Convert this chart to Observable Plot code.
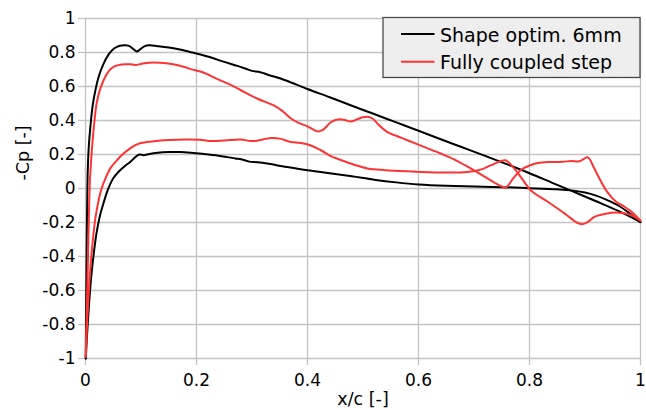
<!DOCTYPE html>
<html>
<head>
<meta charset="utf-8">
<script src="https://cdn.jsdelivr.net/npm/d3@7"></script>
<script src="https://cdn.jsdelivr.net/npm/@observablehq/plot@0.6"></script>
<style>
  html, body { margin: 0; padding: 0; background: #ffffff; }
  #wrap { position: relative; width: 646px; height: 410px; }
  #legend { position: absolute; left: 0; top: 0; }
</style>
</head>
<body>
<div id="wrap"></div>
<script>
// ---- axis ticks & labels ----
const xTicks = [0, 0.2, 0.4, 0.6, 0.8, 1];
const yTicks = [-1, -0.8, -0.6, -0.4, -0.2, 0, 0.2, 0.4, 0.6, 0.8, 1];
const xLabel = "x/c [-]";
const yLabel = "-Cp [-]";
const seriesNames = ["Shape optim. 6mm", "Fully coupled step"];
const seriesColors = ["#000000", "#ff3333"];

// ---- Shape optim. 6mm : suction side ----
const shapeUpperX = [0.0005, 0.0012, 0.002, 0.003, 0.004, 0.006, 0.009, 0.013, 0.018, 0.024, 0.032, 0.042, 0.052, 0.062, 0.072, 0.08, 0.087, 0.093, 0.099, 0.106, 0.115, 0.13, 0.15, 0.17, 0.19, 0.22, 0.25, 0.275, 0.29, 0.30, 0.315, 0.33, 0.36, 0.40, 0.44, 0.48, 0.52, 0.56, 0.60, 0.64, 0.68, 0.72, 0.76, 0.80, 0.84, 0.88, 0.92, 0.96, 1.0];
const shapeUpperCp = [-1.0, -0.7, -0.4, -0.1, 0.1, 0.25, 0.37, 0.49, 0.58, 0.66, 0.73, 0.79, 0.825, 0.84, 0.843, 0.836, 0.818, 0.806, 0.82, 0.836, 0.842, 0.837, 0.829, 0.818, 0.802, 0.776, 0.745, 0.72, 0.703, 0.692, 0.684, 0.668, 0.637, 0.585, 0.537, 0.487, 0.438, 0.389, 0.34, 0.29, 0.241, 0.192, 0.142, 0.09, 0.035, -0.02, -0.075, -0.132, -0.197];

// ---- Shape optim. 6mm : pressure side ----
const shapeLowerX = [0.0005, 0.003, 0.006, 0.01, 0.015, 0.02, 0.026, 0.033, 0.04, 0.05, 0.06, 0.07, 0.08, 0.09, 0.097, 0.105, 0.115, 0.13, 0.15, 0.17, 0.19, 0.21, 0.24, 0.27, 0.285, 0.295, 0.31, 0.33, 0.36, 0.40, 0.44, 0.48, 0.52, 0.56, 0.60, 0.65, 0.70, 0.75, 0.80, 0.85, 0.875, 0.90, 0.92, 0.94, 0.96, 0.98, 1.0];
const shapeLowerCp = [-1.0, -0.85, -0.7, -0.53, -0.38, -0.26, -0.16, -0.08, -0.01, 0.06, 0.1, 0.13, 0.155, 0.185, 0.2, 0.196, 0.203, 0.21, 0.214, 0.214, 0.21, 0.204, 0.193, 0.177, 0.168, 0.158, 0.154, 0.145, 0.128, 0.107, 0.09, 0.072, 0.052, 0.036, 0.024, 0.016, 0.012, 0.008, 0.002, -0.005, -0.011, -0.024, -0.042, -0.068, -0.1, -0.145, -0.198];

// ---- Fully coupled step : suction side ----
const coupledUpperX = [0.0005, 0.0025, 0.0045, 0.0065, 0.008, 0.0095, 0.012, 0.015, 0.02, 0.026, 0.033, 0.042, 0.052, 0.065, 0.08, 0.09, 0.1, 0.115, 0.135, 0.155, 0.175, 0.19, 0.21, 0.237, 0.26, 0.28, 0.31, 0.34, 0.355, 0.37, 0.385, 0.40, 0.41, 0.418, 0.425, 0.433, 0.442, 0.452, 0.465, 0.478, 0.488, 0.498, 0.51, 0.518, 0.528, 0.544, 0.56, 0.58, 0.61, 0.64, 0.665, 0.69, 0.71, 0.725, 0.74, 0.75, 0.758, 0.772, 0.785, 0.80, 0.815, 0.835, 0.86, 0.875, 0.89, 0.905, 0.915, 0.925, 0.94, 0.955, 0.97, 0.985, 1.0];
const coupledUpperCp = [-0.99, -0.7, -0.4, -0.1, 0.05, 0.13, 0.25, 0.36, 0.5, 0.58, 0.64, 0.69, 0.718, 0.73, 0.731, 0.727, 0.733, 0.74, 0.739, 0.732, 0.718, 0.702, 0.685, 0.645, 0.612, 0.578, 0.528, 0.487, 0.455, 0.412, 0.385, 0.365, 0.348, 0.336, 0.34, 0.36, 0.39, 0.405, 0.405, 0.394, 0.405, 0.418, 0.421, 0.41, 0.375, 0.332, 0.31, 0.284, 0.245, 0.206, 0.17, 0.126, 0.088, 0.058, 0.028, 0.012, 0.008, 0.065, 0.11, 0.135, 0.15, 0.156, 0.157, 0.162, 0.16, 0.183, 0.13, 0.065, -0.02, -0.075, -0.105, -0.14, -0.19];

// ---- Fully coupled step : pressure side ----
const coupledLowerX = [0.0005, 0.002, 0.004, 0.007, 0.01, 0.014, 0.018, 0.023, 0.028, 0.036, 0.045, 0.055, 0.065, 0.078, 0.09, 0.1, 0.12, 0.15, 0.18, 0.21, 0.225, 0.25, 0.28, 0.298, 0.31, 0.334, 0.352, 0.37, 0.388, 0.406, 0.424, 0.442, 0.46, 0.484, 0.508, 0.54, 0.58, 0.64, 0.688, 0.712, 0.73, 0.748, 0.757, 0.772, 0.787, 0.802, 0.833, 0.863, 0.885, 0.895, 0.905, 0.917, 0.935, 0.96, 0.98, 1.0];
const coupledLowerCp = [-0.99, -0.85, -0.72, -0.55, -0.42, -0.28, -0.17, -0.08, -0.01, 0.06, 0.12, 0.16, 0.195, 0.23, 0.255, 0.268, 0.277, 0.285, 0.288, 0.286, 0.279, 0.282, 0.288, 0.279, 0.282, 0.297, 0.292, 0.273, 0.268, 0.253, 0.225, 0.19, 0.168, 0.14, 0.118, 0.108, 0.101, 0.094, 0.097, 0.111, 0.136, 0.161, 0.166, 0.12, 0.055, -0.01, -0.078, -0.146, -0.2, -0.21, -0.197, -0.167, -0.15, -0.142, -0.152, -0.19];

// ---- build tables ----
function table(xs, ys, series) {
  return xs.map((x, i) => ({x, cp: ys[i], series}));
}
const curves = [
  table(shapeUpperX, shapeUpperCp, seriesNames[0]),
  table(shapeLowerX, shapeLowerCp, seriesNames[0]),
  table(coupledUpperX, coupledUpperCp, seriesNames[1]),
  table(coupledLowerX, coupledLowerCp, seriesNames[1])
];

const fmt = d => String(Math.round(d * 10) / 10);
const gridColor = "#c3c3c3";

const chart = Plot.plot({
  width: 646,
  height: 410,
  marginLeft: 85,
  marginRight: 6,
  marginTop: 18,
  marginBottom: 52,
  style: {fontFamily: "DejaVu Sans", fontSize: "17px", background: "#ffffff", color: "#000"},
  x: {domain: [0, 1], ticks: xTicks, tickFormat: fmt, label: null},
  y: {domain: [-1, 1], ticks: yTicks, tickFormat: fmt, label: null},
  color: {domain: seriesNames, range: seriesColors},
  marks: [
    Plot.gridX(xTicks, {stroke: gridColor, strokeOpacity: 1, strokeWidth: 1.3}),
    Plot.gridY(yTicks, {stroke: gridColor, strokeOpacity: 1, strokeWidth: 1.3}),
    Plot.axisX(xTicks, {tickSize: 7, tickPadding: 8, stroke: gridColor, strokeWidth: 1.3, fill: "#000", tickFormat: fmt, fontSize: 17, label: null}),
    Plot.axisY(yTicks, {tickSize: 7, tickPadding: 3, stroke: gridColor, strokeWidth: 1.3, fill: "#000", tickFormat: fmt, fontSize: 17, label: null}),
    ...curves.map(c => Plot.line(c, {x: "x", y: "cp", stroke: "series", strokeWidth: 2, curve: "catmull-rom"})),
    Plot.text([xLabel], {frameAnchor: "bottom", dy: 46, lineAnchor: "bottom", fontSize: 17.5, fill: "#000"}),
    Plot.text([yLabel], {frameAnchor: "left", rotate: -90, dx: -57, dy: -8, lineAnchor: "bottom", fontSize: 17.5, fill: "#000"})
  ]
});

const wrap = document.getElementById("wrap");
wrap.appendChild(chart);

// ---- legend (overlay in the plot's top-right corner) ----
const ns = "http://www.w3.org/2000/svg";
const leg = document.createElementNS(ns, "svg");
leg.setAttribute("id", "legend");
leg.setAttribute("width", 646);
leg.setAttribute("height", 410);
leg.style.pointerEvents = "none";
leg.style.fontFamily = "DejaVu Sans";
const box = document.createElementNS(ns, "rect");
box.setAttribute("x", 383); box.setAttribute("y", 17.5);
box.setAttribute("width", 257); box.setAttribute("height", 60);
box.setAttribute("fill", "#eeeeee"); box.setAttribute("stroke", "#4a4a4a"); box.setAttribute("stroke-width", 1.3);
leg.appendChild(box);
seriesNames.forEach((name, i) => {
  const yy = 34 + i * 27.7;
  const ln = document.createElementNS(ns, "line");
  ln.setAttribute("x1", 401); ln.setAttribute("x2", 434.5);
  ln.setAttribute("y1", yy); ln.setAttribute("y2", yy);
  ln.setAttribute("stroke", seriesColors[i]); ln.setAttribute("stroke-width", 2);
  leg.appendChild(ln);
  const tx = document.createElementNS(ns, "text");
  tx.setAttribute("x", 440); tx.setAttribute("y", yy + 7.5);
  tx.setAttribute("font-size", 19); tx.setAttribute("fill", "#000");
  tx.textContent = name;
  leg.appendChild(tx);
});
wrap.appendChild(leg);
</script>
</body>
</html>
